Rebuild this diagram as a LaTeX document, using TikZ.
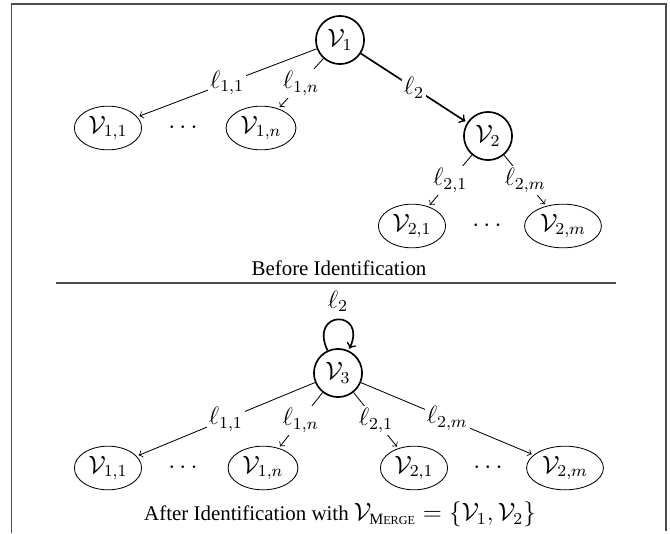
\documentclass[tikz,border=0pt]{standalone}
\usepackage{fontspec}
\setmainfont{Liberation Serif}
\usetikzlibrary{arrows,shapes.geometric}

\newcommand{\bigmath}{\fontsize{12}{14}\selectfont}

\tikzset{
  hub/.style={circle,draw,thick,minimum size=23pt,inner sep=1pt},
  leaf/.style={ellipse,draw,inner xsep=2pt,inner ysep=1.6pt},
  lbl/.style={fill=white,inner sep=1pt},
  caption/.style={font=\fontsize{10}{12}\selectfont},
  rule/.style={draw=black!70,line width=0.6pt}
}

\begin{document}
\begin{tikzpicture}[x=0.478pt,y=-0.478pt,shorten >=1pt,>=to,font=\bigmath]
    \useasboundingbox (0,0) rectangle (670,533);
    \draw[rule,line width=0.7pt] (11.7,533) -- (11.7,3.8) -- (666,3.8) -- (666,533);

    % before identification
    \node[hub]  (v1)  at (340,40)  {$\mathcal{V}_1$};
    \node[leaf] (v11) at (108,128) {$\mathcal{V}_{1,1}$};
    \node       (d1)  at (183,128) {$\cdots$};
    \node[leaf] (v1n) at (261,128) {$\mathcal{V}_{1,n}$};
    \node[hub]  (v2)  at (488,136) {$\mathcal{V}_2$};
    \node[leaf] (v21) at (412,226) {$\mathcal{V}_{2,1}$};
    \node       (d2)  at (487,226) {$\cdots$};
    \node[leaf] (v2m) at (563,226) {$\mathcal{V}_{2,m}$};
    \node[caption] (t1) at (339,268) {Before Identification};

    \path[->]   (v1)    edge  node[lbl] {$\ell_{1,1}$} (v11)
                (v1)    edge  node[lbl] {$\ell_{1,n}$} (v1n)
                (v1)    edge[thick]  node[lbl] {$\ell_2$} (v2)
                (v2)    edge  node[lbl] {$\ell_{2,1}$} (v21)
                (v2)    edge  node[lbl] {$\ell_{2,m}$} (v2m)
                ;

    \coordinate (sl) at (56,283);
    \coordinate (sr) at (618,283);
    \draw[rule] (sl) -- (sr);

    % after identification
    \node[hub]  (v3)  at (338,373) {$\mathcal{V}_3$};
    \node[leaf] (w11) at (108,468) {$\mathcal{V}_{1,1}$};
    \node       (d3)  at (183,468) {$\cdots$};
    \node[leaf] (w1n) at (263,468) {$\mathcal{V}_{1,n}$};
    \node[leaf] (w21) at (414,468) {$\mathcal{V}_{2,1}$};
    \node       (d4)  at (488,468) {$\cdots$};
    \node[leaf] (w2m) at (565,468) {$\mathcal{V}_{2,m}$};
    \node[caption] (t2) at (340,514) {After Identification with
        {\bigmath$\mathcal{V}_{\mbox{\fontsize{7.5}{8}\selectfont M\fontsize{5.8}{6}\selectfont ERGE}}
        = \{\mathcal{V}_1,\mathcal{V}_2\}$}};

    \path[->]   (v3.115) edge[thick,out=115,in=65,looseness=5.5]  node[above] {$\ell_2$} (v3.65)
                (v3)    edge  node[lbl] {$\ell_{1,1}$} (w11)
                (v3)    edge  node[lbl] {$\ell_{1,n}$} (w1n)
                (v3)    edge  node[lbl] {$\ell_{2,1}$} (w21)
                (v3)    edge  node[lbl] {$\ell_{2,m}$} (w2m)
                ;
\end{tikzpicture}
\end{document}
